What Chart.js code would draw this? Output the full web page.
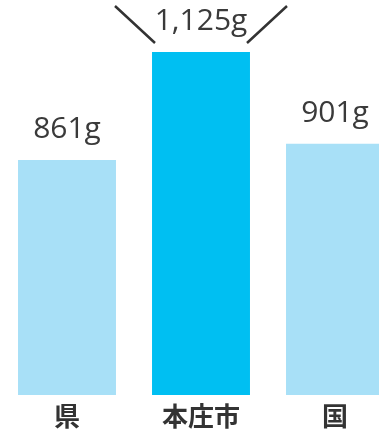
<!DOCTYPE html>
<html>
<head>
<meta charset="utf-8">
<script src="https://cdn.jsdelivr.net/npm/chart.js@4/dist/chart.umd.min.js"></script>
<style>
  html, body { margin: 0; padding: 0; background: #fff; }
  #wrap { width: 379px; height: 434px; overflow: hidden; position: relative; }
  #wrap canvas { position: absolute; left: 0; top: 0; }
</style>
</head>
<body>
<div id="wrap"><canvas id="chart" width="402" height="434"></canvas></div>
<script>
const categories = ['県', '本庄市', '国'];
const amounts    = [861, 1125, 901];
const barColors  = ['#a8e0f7', '#00bff2', '#a8e0f7'];
const unit       = 'g';

/* value labels above the bars */
const valueLabels = {
  id: 'valueLabels',
  afterDatasetsDraw(chart) {
    const { ctx } = chart;
    const meta = chart.getDatasetMeta(0);
    ctx.save();
    ctx.font = '30px "Open Sans"';
    ctx.fillStyle = '#3a3a3a';
    ctx.textAlign = 'center';
    ctx.textBaseline = 'alphabetic';
    meta.data.forEach((bar, i) => {
      ctx.fillText(amounts[i].toLocaleString('en-US') + unit, bar.x, bar.y - 22);
    });

    // the two slanted marks around the highlighted value
    const hi = meta.data[1];
    ctx.strokeStyle = '#333';
    ctx.lineWidth = 2.5;
    ctx.beginPath();
    ctx.moveTo(hi.x - 86, hi.y - 46);
    ctx.lineTo(hi.x - 46, hi.y - 9);
    ctx.moveTo(hi.x + 86, hi.y - 46);
    ctx.lineTo(hi.x + 46, hi.y - 9);
    ctx.stroke();
    ctx.restore();
  }
};

new Chart(document.getElementById('chart'), {
  type: 'bar',
  data: {
    labels: categories,
    datasets: [{
      data: amounts,
      backgroundColor: barColors,
      borderWidth: 0,
      barPercentage: 0.731,
      categoryPercentage: 1,
    }],
  },
  options: {
    responsive: false,
    animation: false,
    layout: { padding: 0 },
    plugins: { legend: { display: false }, tooltip: { enabled: false } },
    scales: {
      x: {
        grid: { display: false, drawTicks: false },
        border: { display: false },
        ticks: {
          padding: 6,
          color: '#333',
          font: { family: '"Noto Sans CJK JP"', size: 26, weight: 'bold' },
        },
        afterFit(scale) { scale.height = 39; },
      },
      y: {
        display: false,
        min: 287,
        max: 1252,
      },
    },
  },
  plugins: [valueLabels],
});
</script>
</body>
</html>
